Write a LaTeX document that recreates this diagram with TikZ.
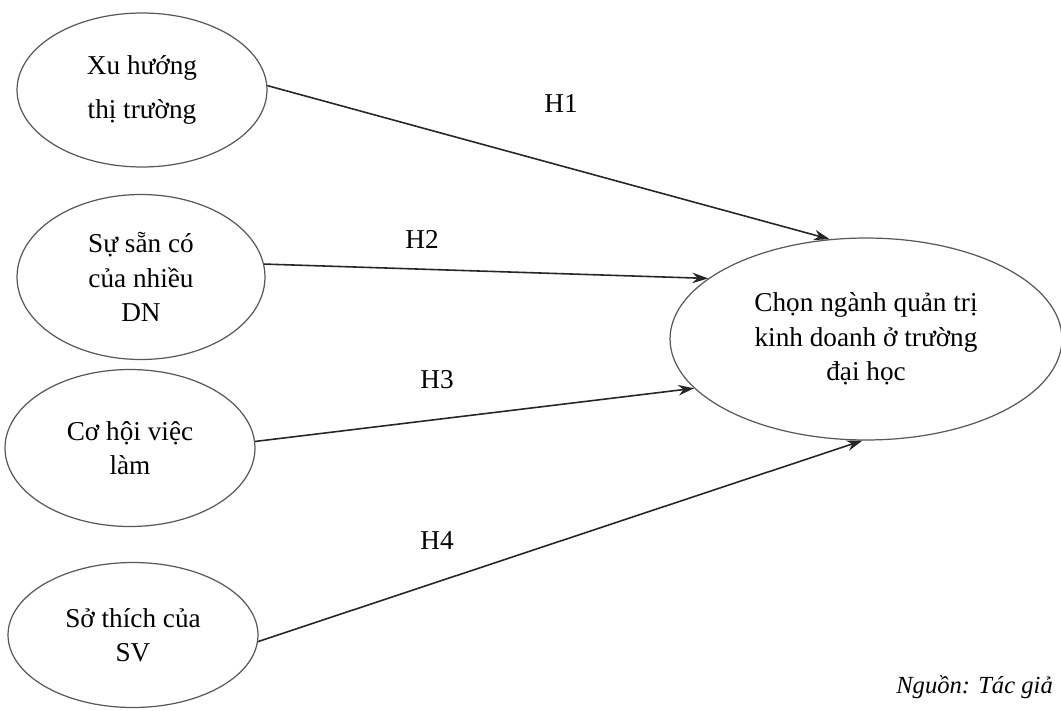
\documentclass[tikz,border=0pt]{standalone}
\usepackage{fontspec}
\setmainfont{Liberation Serif}
\usetikzlibrary{shapes.geometric,arrows.meta}

\begin{document}
\begin{tikzpicture}[x=0.02cm,y=-0.02cm,
        factor/.style={ellipse, draw=black!65, line width=0.7pt, inner sep=0pt,
                       align=center, font=\fontsize{15.5}{19.5}\selectfont},
        link/.style={draw=black!85, line width=0.9pt, -{Stealth[length=9pt,width=6pt]}},
        hlabel/.style={font=\fontsize{15.5}{19.5}\selectfont}]
            \path[use as bounding box] (0,0) rectangle (1061,710);

            % cac nhan to
            \node[factor, minimum width=5cm, minimum height=3.08cm,
                  font=\fontsize{15.5}{25}\selectfont] (xuhuong) at (142,90) {Xu hướng\\thị trường};
            \node[factor, minimum width=4.96cm, minimum height=3.3cm] (sansang) at (141,277) {Sự sẵn có\\của nhiều\\DN};
            \node[factor, minimum width=5cm, minimum height=3.14cm] (cohoi) at (130,448) {Cơ hội việc\\làm};
            \node[factor, minimum width=5cm, minimum height=2.9cm] (sothich) at (133,635) {Sở thích của\\SV};

            % bien phu thuoc
            \node[factor, minimum width=7.84cm, minimum height=4.04cm] (chon) at (866,339) {Chọn ngành quản trị\\kinh doanh ở trường\\đại học};

            \draw[link] (xuhuong.2) -- (chon.110);
            \draw[link] (sansang.6) -- (chon.159);
            \draw[link] (cohoi.3) -- (chon.196);
            \draw[link] (sothich.357) -- (chon.268);

            \node[hlabel] (h1) at (561,104) {H1};
            \node[hlabel] (h2) at (422,239) {H2};
            \node[hlabel] (h3) at (437,380) {H3};
            \node[hlabel] (h4) at (437,541) {H4};

            \node[anchor=base east, font=\fontsize{14}{17}\selectfont\itshape] (nguon) at (1059,693) {Nguồn: Tác giả};
        \end{tikzpicture}
\end{document}
